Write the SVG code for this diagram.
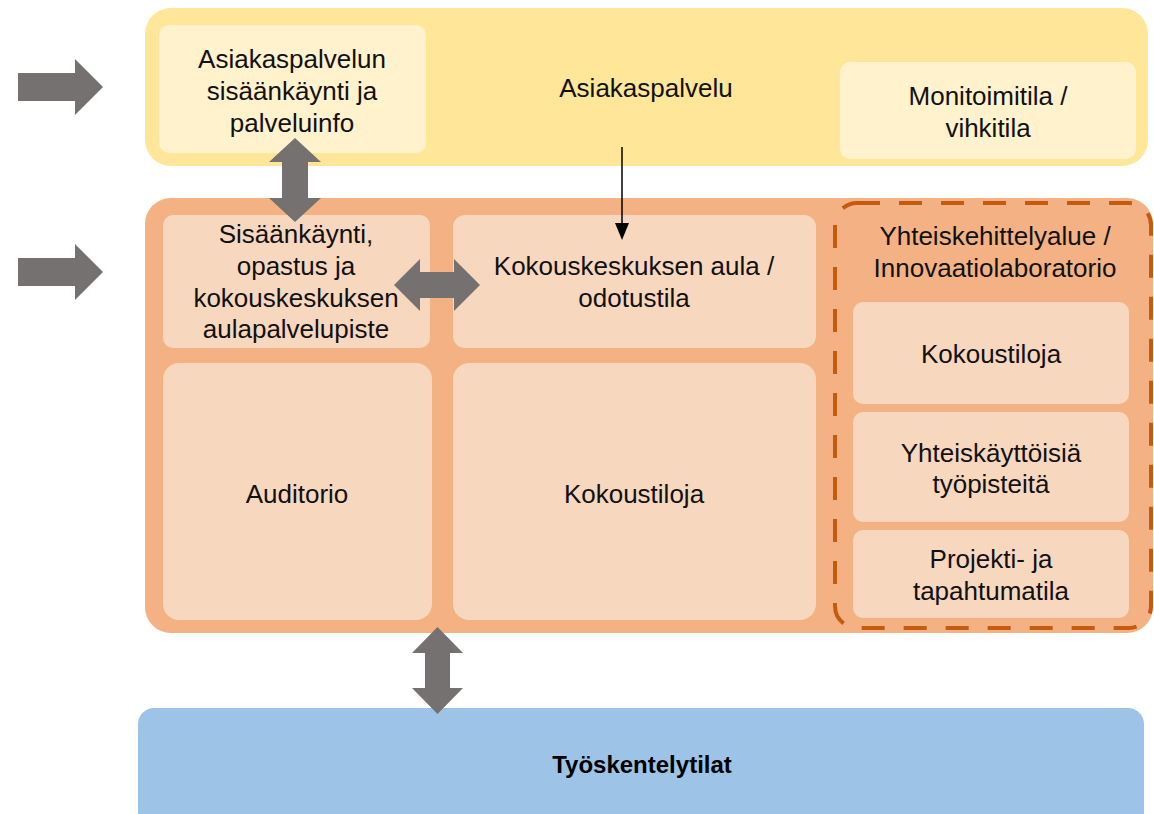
<svg xmlns="http://www.w3.org/2000/svg" width="1154" height="814" viewBox="0 0 1154 814">
<style>
text{font-family:"Liberation Sans",Arial,sans-serif;font-size:26px;fill:#111;text-anchor:middle}
.b{font-weight:bold;font-size:24px;fill:#000}
.yo{fill:#FFE699}.yi{fill:#FFF2CC}
.oo{fill:#F4B183}.oi{fill:#F8D7BF}
.bl{fill:#9DC3E6}
.ga{fill:#767171}
</style>
<rect width="1154" height="814" fill="#fff"/>
<g id="asiakaspalvelu">
<rect class="yo" x="145" y="8" width="1003" height="158" rx="26"/>
<text x="646" y="97">Asiakaspalvelu</text>
</g>
<g id="asiakaspalvelun-sisaankaynti">
<rect class="yi" x="159" y="25" width="267" height="128" rx="10"/>
<text x="292" y="68">Asiakaspalvelun</text>
<text x="292" y="100">sisäänkäynti ja</text>
<text x="292" y="132">palveluinfo</text>
</g>
<g id="monitoimitila">
<rect class="yi" x="840" y="62" width="296" height="97" rx="10"/>
<text x="988" y="105">Monitoimitila /</text>
<text x="988" y="137">vihkitila</text>
</g>
<g id="kokouskeskus">
<rect class="oo" x="145" y="198" width="1008" height="435" rx="26"/>
</g>
<g id="sisaankaynti">
<rect class="oi" x="163" y="215" width="267" height="133" rx="10"/>
<text x="296" y="243">Sisäänkäynti,</text>
<text x="296" y="275">opastus ja</text>
<text x="296" y="307">kokouskeskuksen</text>
<text x="296" y="338">aulapalvelupiste</text>
</g>
<g id="aula">
<rect class="oi" x="453" y="215" width="363" height="133" rx="12"/>
<text x="634" y="275">Kokouskeskuksen aula /</text>
<text x="634" y="307">odotustila</text>
</g>
<g id="auditorio">
<rect class="oi" x="163" y="363" width="269" height="257" rx="16"/>
<text x="297" y="503">Auditorio</text>
</g>
<g id="kokoustiloja">
<rect class="oi" x="453" y="363" width="363" height="257" rx="16"/>
<text x="634" y="503">Kokoustiloja</text>
</g>
<g id="yhteiskehittelyalue">
<rect x="835" y="203" width="316" height="425" rx="22" fill="none" stroke="#C55A11" stroke-width="4" stroke-dasharray="23 19"/>
<text x="995" y="245">Yhteiskehittelyalue /</text>
<text x="995" y="277">Innovaatiolaboratorio</text>
</g>
<g id="kokoustiloja-2">
<rect class="oi" x="853" y="302" width="276" height="102" rx="10"/>
<text x="991" y="363">Kokoustiloja</text>
</g>
<g id="tyopisteet">
<rect class="oi" x="853" y="412" width="276" height="110" rx="10"/>
<text x="991" y="462">Yhteiskäyttöisiä</text>
<text x="991" y="493">työpisteitä</text>
</g>
<g id="projektitila">
<rect class="oi" x="853" y="530" width="276" height="88" rx="10"/>
<text x="991" y="568">Projekti- ja</text>
<text x="991" y="600">tapahtumatila</text>
</g>
<g id="tyoskentelytilat">
<rect class="bl" x="138" y="708" width="1006" height="120" rx="16"/>
<text class="b" x="642" y="773">Työskentelytilat</text>
</g>
<g id="connectors">
<polygon class="ga" points="18,73 75,73 75,59 103,87 75,115 75,101 18,101"/>
<polygon class="ga" points="18,258 75,258 75,244 103,272 75,300 75,286 18,286"/>
<polygon class="ga" points="295,138 321,162 308,162 308,198 321,198 295,222 269,198 282,198 282,162 269,162"/>
<polygon class="ga" points="394,285 420,259 420,272 454,272 454,259 480,285 454,311 454,298 420,298 420,311"/>
<polygon class="ga" points="437.5,627 463,653 450,653 450,688 463,688 437.5,714 412,688 425,688 425,653 412,653"/>
<line x1="622" y1="147" x2="622" y2="225" stroke="#000" stroke-width="1.5"/>
<polygon points="615,223 629,223 622,240" fill="#000"/>
</g>
</svg>
